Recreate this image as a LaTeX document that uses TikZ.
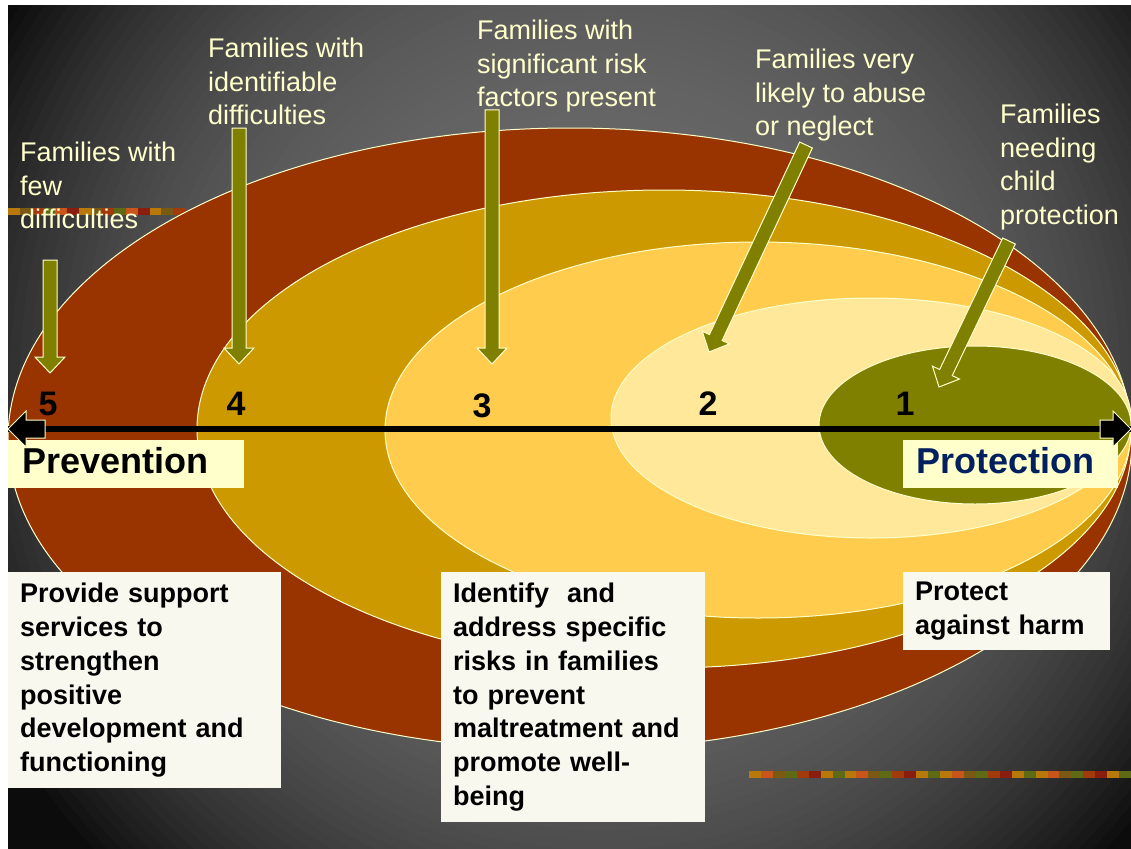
\documentclass[tikz,border=0pt]{standalone}
\usepackage{fontspec}
\setmainfont{Liberation Sans}
\usetikzlibrary{calc}

\definecolor{ringfive}{HTML}{993300}
\definecolor{ringfour}{HTML}{CC9900}
\definecolor{ringthree}{HTML}{FFCC4D}
\definecolor{ringtwo}{HTML}{FFE89A}
\definecolor{ringone}{HTML}{808000}
\definecolor{cream}{HTML}{FFFFCC}
\definecolor{paper}{HTML}{F8F8EF}
\definecolor{navy}{HTML}{002060}
\definecolor{bgmid}{HTML}{6A6A6A}
\definecolor{bgdark}{HTML}{050505}
\definecolor{texa}{HTML}{B8780A}
\definecolor{texb}{HTML}{7A5A12}
\definecolor{texc}{HTML}{A33A0C}
\definecolor{texd}{HTML}{5E6A14}
\definecolor{texe}{HTML}{C8561A}
\definecolor{texf}{HTML}{8A1E0E}

% block arrow between two named points
\newcommand{\fatarrow}[3][olivearrow]{%
  \path[#1] let \p1=(#2), \p2=(#3),
      \n1={atan2(\y2-\y1,\x2-\x1)}, \n2={veclen(\x2-\x1,\y2-\y1)} in
    [shift={(\p1)}, rotate=\n1]
    (0pt,-\shaftw) -- (\n2-\headl,-\shaftw) -- (\n2-\headl,-\headw)
    -- (\n2-0pt,0pt) -- (\n2-\headl,\headw) -- (\n2-\headl,\shaftw)
    -- (0pt,\shaftw) -- cycle;}

\begin{document}
\begin{tikzpicture}[x=1pt,y=-1pt,
  ring/.style={draw=cream, line width=1pt},
  famlabel/.style={text=cream, anchor=north west, align=left, inner sep=0pt,
    font=\fontsize{27}{33.5}\selectfont},
  num/.style={inner sep=0pt, font=\bfseries\fontsize{34}{34}\selectfont},
  capbox/.style={fill=cream, anchor=north west, align=left, minimum height=48pt,
    inner ysep=0pt, text height=24pt, text depth=6pt,
    font=\bfseries\fontsize{36}{36}\selectfont},
  paperbox/.style={fill=paper, anchor=north west, align=left, inner xsep=12pt,
    font=\bfseries\fontsize{27}{33.8}\selectfont},
  olivearrow/.style={draw=cream, fill=ringone, line width=1pt,
    /utils/exec={\def\shaftw{7pt}\def\headw{15pt}\def\headl{16pt}}},
  axisarrow/.style={draw=cream, fill=black, line width=1pt,
    /utils/exec={\def\shaftw{9pt}\def\headw{18pt}\def\headl{18pt}}}]

\useasboundingbox (0,0) rectangle (1131,848);
\fill[white] (0,0) rectangle (1131,848);

% dark backdrop, lighter towards the middle
\begin{scope}
\clip (8,6) rectangle (1131,848);
\fill[bgdark] (8,6) rectangle (1131,848);
\foreach \r in {780,770,...,0} {
  \pgfmathsetmacro\f{100*(1-0.93*min(1,(\r/700)^3))}
  \fill[bgmid!\f!bgdark] (600,380) circle [radius=\r];
}
\end{scope}

% textured strips
\foreach \i in {0,...,14} {
  \pgfmathparse{{"texa","texb","texc","texd","texe","texf"}[mod(\i,6)]}
  \let\tc\pgfmathresult
  \fill[\tc] (8+\i*11.8,208) rectangle +(11.8,7);
}
\foreach \i in {0,...,31} {
  \pgfmathparse{{"texa","texe","texb","texd","texc","texf","texa","texd"}[mod(\i,8)]}
  \let\tc\pgfmathresult
  \fill[\tc] (749+\i*11.94,771) rectangle +(11.94,7);
}

% nested rings
\draw[ring, fill=ringfive]  (570,439) ellipse [x radius=562, y radius=311];
\draw[ring, fill=ringfour]  (664,429) ellipse [x radius=467, y radius=239];
\draw[ring, fill=ringthree] (758,430) ellipse [x radius=373, y radius=188];
\draw[ring, fill=ringtwo]   (871,418) ellipse [x radius=260, y radius=120];
\draw[ring, fill=ringone]   (975,425) ellipse [x radius=156, y radius=79];

% axis
\coordinate (west) at (8,429);
\coordinate (east) at (1131,429);
\coordinate (westin) at (45,429);
\coordinate (eastin) at (1100,429);
\draw[line width=6pt] (west) -- (east);

\node[capbox, text width=208pt, inner xsep=14pt] (prev) at (8,440) {Prevention};
\node[capbox, text width=189pt, inner xsep=13pt, text=navy] (prot) at (903,440) {Protection};

\fatarrow[axisarrow]{westin}{west}
\fatarrow[axisarrow]{eastin}{east}

\node[num] (nfive)  at (48,404)  {5};
\node[num] (nfour)  at (236,404) {4};
\node[num] (nthree) at (482,406) {3};
\node[num] (ntwo)   at (708,404) {2};
\node[num] (none)   at (905,404) {1};

% labels
\node[famlabel] (lfive)  at (20,142)  {Families with\\few\\difficulties};
\node[famlabel] (lfour)  at (208,38)  {Families with\\identifiable\\difficulties};
\node[famlabel] (lthree) at (477,20)  {Families with\\significant risk\\factors present};
\node[famlabel] (ltwo)   at (755,49)  {Families very\\likely to abuse\\or neglect};
\node[famlabel] (lone)   at (1000,104) {Families\\needing\\child\\protection};

% arrows down to the rings
\coordinate (afive)  at (50,260);   \coordinate (tfive)  at (50,373);
\coordinate (afour)  at (239,128);  \coordinate (tfour)  at (239,364);
\coordinate (athree) at (492,110);  \coordinate (tthree) at (492,364);
\coordinate (atwo)   at (806,145);  \coordinate (ttwo)   at (709,352);
\coordinate (aone)   at (1009,241); \coordinate (tone)   at (939,387);
\fatarrow{afive}{tfive}
\fatarrow{afour}{tfour}
\fatarrow{athree}{tthree}
\fatarrow{atwo}{ttwo}
\fatarrow{aone}{tone}

% what to do
\node[paperbox, text width=249pt, minimum height=216pt] (support) at (8,572)
  {Provide support\\services to\\strengthen\\positive\\development and\\functioning};
\node[paperbox, text width=240pt, minimum height=250pt] (risks) at (441,572)
  {Identify\ \ and\\address specific\\risks in families\\to prevent\\maltreatment and\\promote well-\\being};
\node[paperbox, text width=183pt, minimum height=78pt] (harm) at (903,572)
  {Protect\\against harm};

\end{tikzpicture}
\end{document}
